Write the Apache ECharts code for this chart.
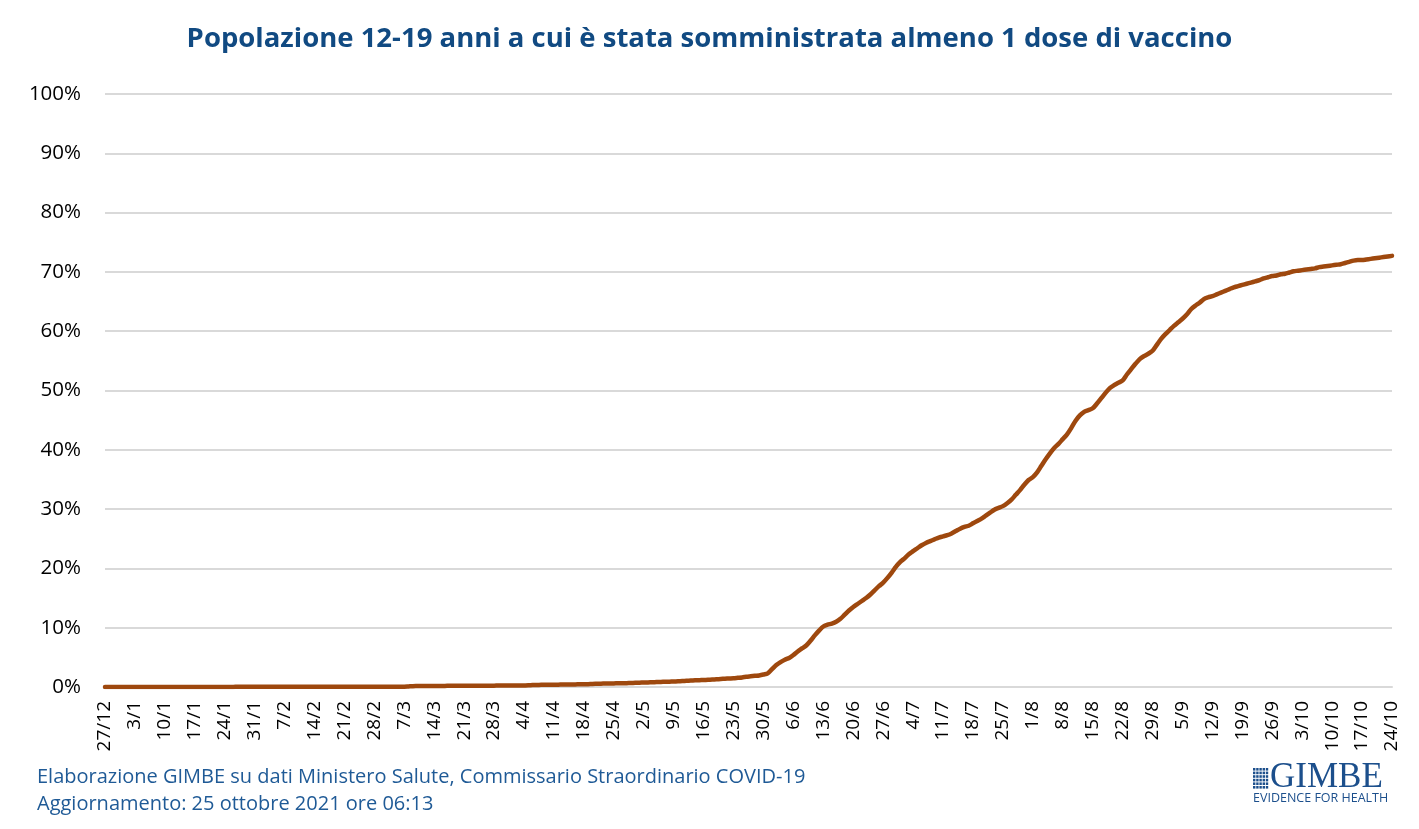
<!DOCTYPE html>
<html>
<head>
<meta charset="utf-8">
<script src="https://cdn.jsdelivr.net/npm/echarts@6/dist/echarts.min.js"></script>
<style>
  html, body { margin: 0; padding: 0; background: #fff; }
  #wrap { width: 1419px; height: 829px; box-sizing: border-box; border: 2px solid #d9d9d9; position: relative; }
  #chart { position: absolute; left: -2px; top: -2px; width: 1419px; height: 829px; }
</style>
</head>
<body>
<div id="wrap"><div id="chart"></div></div>
<script>
// Title and footer
const titleText = 'Popolazione 12-19 anni a cui è stata somministrata almeno 1 dose di vaccino';
const footer1 = 'Elaborazione GIMBE su dati Ministero Salute, Commissario Straordinario COVID-19';
const footer2 = 'Aggiornamento: 25 ottobre 2021 ore 06:13';

// Daily categories: 27/12/2020 .. 24/10/2021
const startDate = Date.UTC(2020, 11, 27);
const dayCount = 302;
const dates = [];
for (let i = 0; i < dayCount; i++) {
  const d = new Date(startDate + i * 86400000);
  dates.push(d.getUTCDate() + '/' + (d.getUTCMonth() + 1));
}

// Y tick values (%)
const yTicks = [0, 10, 20, 30, 40, 50, 60, 70, 80, 90, 100];

// Share of 12-19 population with at least one dose (%), one value per day
const coverage = [
  0,0,0,0,0,0,0,
  0,0,0,0,0,0,0,
  0.01,0.01,0.01,0.01,0.01,0.01,0.01,
  0.02,0.02,0.02,0.02,0.02,0.02,0.02,
  0.02,0.02,0.02,0.03,0.03,0.03,0.03,
  0.03,0.03,0.03,0.03,0.03,0.03,0.03,
  0.04,0.04,0.04,0.04,0.04,0.04,0.04,
  0.04,0.04,0.04,0.04,0.04,0.05,0.05,
  0.05,0.05,0.05,0.05,0.05,0.05,0.05,
  0.05,0.05,0.05,0.05,0.05,0.05,0.05,
  0.06,0.1,0.14,0.15,0.16,0.16,0.17,
  0.17,0.18,0.18,0.19,0.19,0.2,0.2,
  0.2,0.21,0.21,0.22,0.22,0.23,0.23,
  0.23,0.24,0.24,0.25,0.25,0.26,0.26,
  0.27,0.28,0.33,0.35,0.36,0.37,0.38,
  0.39,0.4,0.41,0.42,0.43,0.44,0.45,
  0.46,0.48,0.52,0.54,0.56,0.58,0.6,
  0.61,0.62,0.63,0.65,0.68,0.7,0.73,
  0.75,0.77,0.8,0.83,0.86,0.88,0.9,
  0.93,0.96,1.0,1.04,1.08,1.12,1.15,
  1.18,1.22,1.26,1.3,1.35,1.4,1.44,
  1.48,1.55,1.62,1.72,1.8,1.88,1.95,
  2.1,2.3,3.0,3.7,4.2,4.6,4.9,
  5.4,6.0,6.5,7.0,7.8,8.7,9.5,
  10.2,10.5,10.7,11.0,11.5,12.2,12.9,
  13.5,14.0,14.5,15.0,15.6,16.3,17.0,
  17.6,18.4,19.3,20.3,21.1,21.7,22.4,
  22.9,23.4,23.9,24.3,24.6,24.9,25.2,
  25.4,25.6,25.9,26.3,26.7,27.0,27.2,
  27.6,28.0,28.4,28.9,29.4,29.9,30.2,
  30.5,31.0,31.6,32.4,33.2,34.1,34.9,
  35.4,36.2,37.3,38.4,39.4,40.3,41.0,
  41.8,42.6,43.7,44.9,45.8,46.4,46.7,
  47.0,47.8,48.7,49.6,50.4,50.9,51.3,
  51.7,52.7,53.6,54.5,55.3,55.8,56.2,
  56.7,57.7,58.7,59.5,60.2,60.9,61.5,
  62.1,62.8,63.7,64.3,64.8,65.4,65.7,
  65.9,66.2,66.5,66.8,67.1,67.4,67.6,
  67.8,68.0,68.2,68.4,68.6,68.9,69.1,
  69.3,69.4,69.6,69.7,69.9,70.1,70.2,
  70.3,70.4,70.5,70.6,70.8,70.9,71.0,
  71.1,71.2,71.3,71.5,71.7,71.9,72.0,
  72.0,72.1,72.2,72.3,72.4,72.5,72.6,
  72.7
];

const FONT = '"Open Sans", "Noto Sans", sans-serif';
const chart = echarts.init(document.getElementById('chart'), null, { renderer: 'canvas' });

// logo icon: small grid of squares
const logoCells = [];
for (let r = 0; r < 6; r++) {
  for (let c = 0; c < 5; c++) {
    logoCells.push({
      type: 'rect',
      shape: { x: c * 3.2, y: r * 3.6, width: 2.4, height: 2.6 },
      style: { fill: '#1c4f8c' }
    });
  }
}

chart.setOption({
  animation: false,
  backgroundColor: '#ffffff',
  title: {
    text: titleText,
    left: 'center',
    top: 20,
    textStyle: { fontFamily: FONT, fontWeight: 'bold', fontSize: 27.5, color: '#114a82' }
  },
  grid: { left: 105, right: 27, top: 94, bottom: 142, containLabel: false },
  xAxis: {
    type: 'category',
    data: dates,
    boundaryGap: false,
    axisLine: { show: true, lineStyle: { color: '#d9d9d9', width: 2 } },
    axisTick: { show: false },
    axisLabel: {
      interval: 6,
      rotate: 90,
      fontFamily: FONT,
      fontSize: 19,
      color: '#000000',
      margin: 14
    },
    splitLine: { show: false }
  },
  yAxis: {
    type: 'value',
    min: yTicks[0],
    max: yTicks[yTicks.length - 1],
    interval: 10,
    axisLine: { show: false },
    axisTick: { show: false },
    axisLabel: {
      formatter: '{value}%',
      fontFamily: FONT,
      fontSize: 20.5,
      color: '#000000',
      margin: 24
    },
    splitLine: { show: true, lineStyle: { color: '#d9d9d9', width: 2 } }
  },
  series: [{
    type: 'line',
    data: coverage,
    showSymbol: false,
    smooth: 0.3,
    lineStyle: { color: '#9e480e', width: 4.5, cap: 'round', join: 'round' },
    itemStyle: { color: '#9e480e' }
  }],
  graphic: [
    {
      type: 'text', left: 37, top: 767,
      style: { text: footer1, fontFamily: FONT, fontSize: 20, fill: '#1f5a96' }
    },
    {
      type: 'text', left: 37, top: 794,
      style: { text: footer2, fontFamily: FONT, fontSize: 20, fill: '#1f5a96' }
    },
    {
      type: 'group', left: 1253, top: 768,
      children: logoCells
    },
    {
      type: 'text', left: 1270, top: 760,
      style: { text: 'GIMBE', fontFamily: '"Liberation Serif", "DejaVu Serif", serif', fontSize: 35, fill: '#1c4f8c' }
    },
    {
      type: 'text', left: 1253, top: 792,
      style: { text: 'EVIDENCE FOR HEALTH', fontFamily: FONT, fontSize: 12.5, fill: '#1c4f8c' }
    }
  ]
});
</script>
</body>
</html>
